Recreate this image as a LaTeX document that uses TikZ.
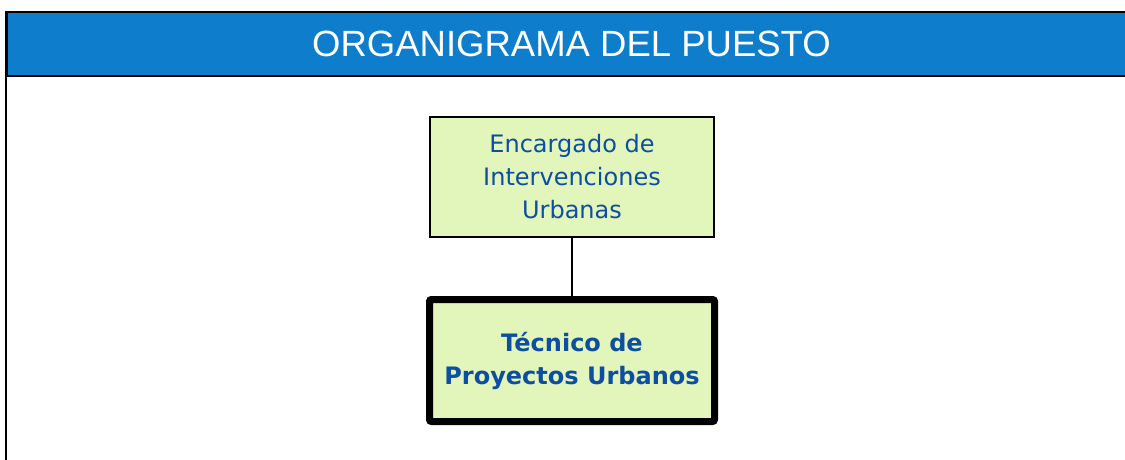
\documentclass[tikz,border=0pt]{standalone}
\usepackage{fontspec}
\setmainfont{DejaVu Sans}
\newfontfamily\titlefont{Liberation Sans}
\usetikzlibrary{positioning}
\definecolor{headblue}{RGB}{14,125,203}
\definecolor{boxgreen}{RGB}{226,245,186}
\definecolor{textblue}{RGB}{11,78,162}

\begin{document}
\begin{tikzpicture}[x=1pt,y=-1pt,header/.style={draw,fill=headblue,line width=2pt,minimum width=1129pt,minimum height=64pt,inner sep=0pt,text=white,font=\titlefont\fontsize{36.5}{40}\selectfont},box/.style={draw,fill=boxgreen,text=textblue,align=center,inner sep=0pt},upper/.style={box,line width=2pt,minimum width=284pt,minimum height=120pt,font=\fontsize{24}{33}\selectfont},lower/.style={box,line width=7pt,rounded corners=2pt,minimum width=285pt,minimum height=122pt,font=\bfseries\fontsize{24}{33}\selectfont}]
    \useasboundingbox (0,0) rectangle (1125,459);
    \node[header] (title) at (571.5,43.5) {ORGANIGRAMA DEL PUESTO};
    \coordinate (frameend) at (title.north west |- 0,460);
    \draw[line width=2pt] (title.north west) -- (frameend);

    \node[upper] (boss) at (572,177) {Encargado de\\Intervenciones\\Urbanas};
    \node[lower] (post) at (572,360.5) {T\'ecnico de\\Proyectos Urbanos};
    \draw[line width=2pt] (boss) -- (post);
\end{tikzpicture}
\end{document}
